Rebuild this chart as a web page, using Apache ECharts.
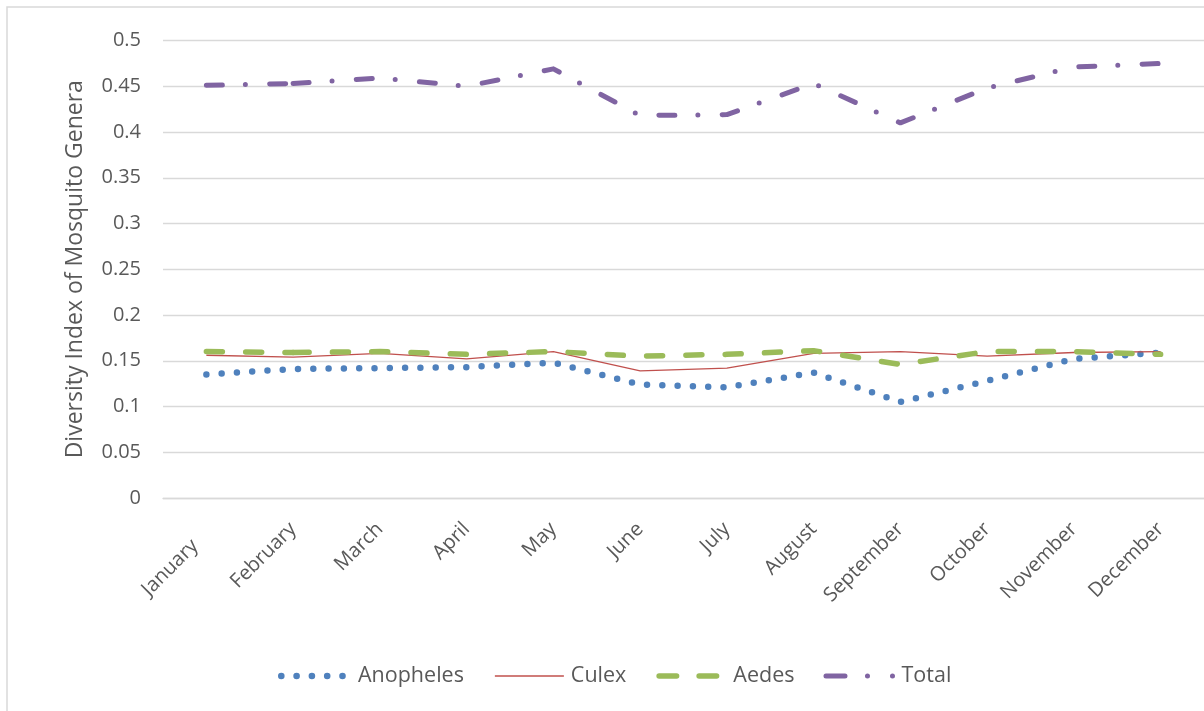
<!DOCTYPE html>
<html>
<head>
<meta charset="utf-8">
<title>Diversity Index of Mosquito Genera</title>
<script src="https://cdn.jsdelivr.net/npm/echarts@6/dist/echarts.min.js"></script>
<style>
  html, body { margin: 0; padding: 0; background: #ffffff; }
  #chart { width: 1204px; height: 711px; }
</style>
</head>
<body>
<div id="chart"></div>
<script>
// Monthly diversity index per mosquito genus
const months = ['January', 'February', 'March', 'April', 'May', 'June',
                'July', 'August', 'September', 'October', 'November', 'December'];
const anopheles = [0.135, 0.141, 0.142, 0.143, 0.148, 0.124, 0.121, 0.137, 0.105, 0.128, 0.152, 0.159];
const culex     = [0.156, 0.154, 0.158, 0.152, 0.160, 0.139, 0.142, 0.158, 0.160, 0.155, 0.159, 0.160];
const aedes     = [0.160, 0.159, 0.160, 0.157, 0.160, 0.155, 0.157, 0.161, 0.146, 0.160, 0.160, 0.157];
const total     = [0.451, 0.453, 0.459, 0.450, 0.469, 0.418, 0.419, 0.453, 0.410, 0.448, 0.471, 0.475];
const yTicks    = [0, 0.05, 0.1, 0.15, 0.2, 0.25, 0.3, 0.35, 0.4, 0.45, 0.5];

const FONT = '"Open Sans", "Noto Sans", sans-serif';
const TEXT = '#595959';
const GRID = '#d9d9d9';

// Legend icons are drawn in a 75 x 14 box; the leading moves pin the box size.
const ICON_W = 75, ICON_H = 14, MID = 7;
function dot(cx, r) {
  return 'M' + (cx - r) + ' ' + MID +
         ' A' + r + ' ' + r + ' 0 1 0 ' + (cx + r) + ' ' + MID +
         ' A' + r + ' ' + r + ' 0 1 0 ' + (cx - r) + ' ' + MID + ' Z ';
}
function dash(x1, x2, r) {
  return 'M' + (x1 + r) + ' ' + (MID - r) + ' L' + (x2 - r) + ' ' + (MID - r) +
         ' A' + r + ' ' + r + ' 0 0 1 ' + (x2 - r) + ' ' + (MID + r) +
         ' L' + (x1 + r) + ' ' + (MID + r) +
         ' A' + r + ' ' + r + ' 0 0 1 ' + (x1 + r) + ' ' + (MID - r) + ' Z ';
}
function bar(x1, x2, h) {
  return 'M' + x1 + ' ' + (MID - h / 2) + ' L' + x2 + ' ' + (MID - h / 2) +
         ' L' + x2 + ' ' + (MID + h / 2) + ' L' + x1 + ' ' + (MID + h / 2) + ' Z ';
}
const frame = 'M0 0 M' + ICON_W + ' ' + ICON_H + ' ';
const icons = {
  Anopheles: 'path://' + frame + [3.3, 18.6, 33.9, 49.2, 64.5].map(function (x) { return dot(x, 3.3); }).join(''),
  Culex: 'path://' + frame + bar(4, 73, 1.4),
  Aedes: 'path://' + frame + dash(3, 26, 2.75) + dash(43, 66, 2.75),
  Total: 'path://' + frame + dash(2, 26, 2.5) + dot(46, 2.5) + dot(71, 2.5)
};

const chart = echarts.init(document.getElementById('chart'), null, { renderer: 'canvas' });

function lineSeries(name, data, color, width, pattern) {
  return {
    name: name,
    type: 'line',
    data: data,
    symbol: 'none',
    smooth: false,
    color: color,
    itemStyle: { color: color },
    lineStyle: {
      color: color,
      width: width,
      type: pattern || 'solid',
      cap: pattern ? 'round' : 'butt',
      join: 'round'
    },
    emphasis: { disabled: true }
  };
}

// The dash pattern restarts at February, so the first segment is its own piece.
function headPart(values) {
  return values.map(function (v, i) { return i <= 1 ? v : '-'; });
}
function tailPart(values) {
  return values.map(function (v, i) { return i >= 1 ? v : '-'; });
}

const names = ['Anopheles', 'Culex', 'Aedes', 'Total'];
const aedesDash = [16, 23.3];
const totalDash = [16, 23, 0, 24.3];

chart.setOption({
  backgroundColor: '#ffffff',
  animation: false,
  graphic: [{
    type: 'rect',
    shape: { x: 7, y: 7, width: 1400, height: 900 },
    style: { fill: 'none', stroke: GRID, lineWidth: 1.5 },
    silent: true,
    z: -10
  }],
  grid: { left: 163, right: -5.5, top: 40.5, bottom: 213 },
  legend: {
    left: 273,
    top: 660,
    itemWidth: ICON_W,
    itemHeight: ICON_H,
    itemGap: 27,
    itemStyle: { borderWidth: 0 },
    textStyle: { color: TEXT, fontSize: 21.5, fontFamily: FONT },
    data: names.map(function (n) { return { name: n, icon: icons[n] }; })
  },
  xAxis: {
    type: 'category',
    data: months,
    boundaryGap: true,
    axisTick: { show: false },
    axisLine: { show: true, lineStyle: { color: GRID, width: 1.3 } },
    axisLabel: {
      rotate: 45,
      interval: 0,
      margin: 28,
      color: TEXT,
      fontSize: 20,
      fontFamily: FONT,
      // the first label sits a little lower and further left than the rest
      formatter: function (value, index) {
        return index === 0 ? '{first|' + value + '}' : value;
      },
      rich: {
        first: { color: TEXT, fontSize: 20, fontFamily: FONT, padding: [8, 20, 0, 0] }
      }
    },
    splitLine: { show: false }
  },
  yAxis: {
    type: 'value',
    min: yTicks[0],
    max: yTicks[yTicks.length - 1],
    interval: 0.05,
    name: 'Diversity Index of Mosquito Genera',
    nameLocation: 'middle',
    nameGap: 76,
    nameTextStyle: { color: TEXT, fontSize: 23, fontFamily: FONT },
    axisLine: { show: false },
    axisTick: { show: false },
    axisLabel: {
      margin: 22,
      color: TEXT,
      fontSize: 20,
      fontFamily: FONT,
      formatter: function (v) { return String(parseFloat(v.toFixed(2))); }
    },
    splitLine: { show: true, lineStyle: { color: GRID, width: 1.3 } }
  },
  series: [
    lineSeries('Anopheles', anopheles, '#4f81bd', 6.5, [0, 15.3]),
    lineSeries('Culex', culex, '#c0504d', 1.3, null),
    lineSeries('Aedes', headPart(aedes), '#9bbb59', 5.5, aedesDash),
    lineSeries('Aedes', tailPart(aedes), '#9bbb59', 5.5, aedesDash),
    lineSeries('Total', headPart(total), '#8064a2', 5, totalDash),
    lineSeries('Total', tailPart(total), '#8064a2', 5, totalDash)
  ]
});
</script>
</body>
</html>
